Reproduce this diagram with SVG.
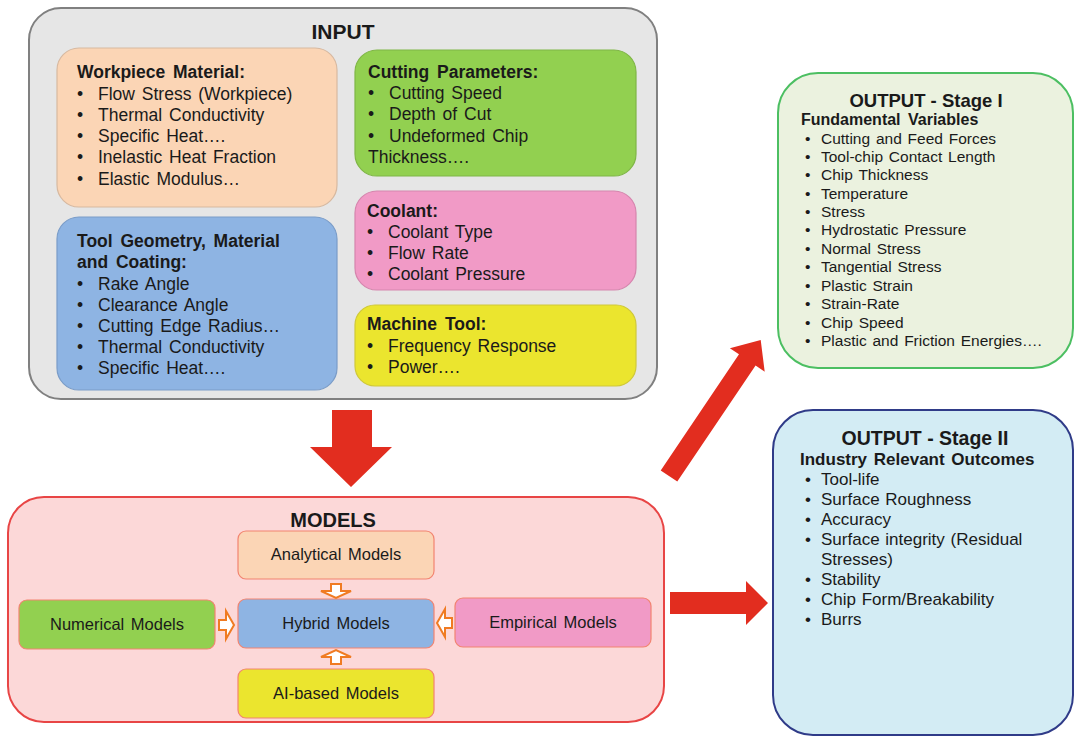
<svg xmlns="http://www.w3.org/2000/svg" width="1077" height="737" viewBox="0 0 1077 737">
  <style>
    text { font-family: "Liberation Sans", Arial, sans-serif; fill: #1a1a1a; }
    .title { font-weight: bold; font-size: 21px; text-anchor: middle; }
    .head { font-weight: bold; font-size: 17.5px; word-spacing: 3px; }
    .item { font-size: 17.5px; word-spacing: 2px; }
    .oitem { font-size: 15.5px; word-spacing: 1.5px; }
    .o2item { font-size: 17px; word-spacing: 1px; }
    .mlabel { font-size: 16.5px; word-spacing: 2px; text-anchor: middle; }
    .sub { stroke-width: 1.2; }
    .minor { fill: #ffffff; stroke: #f07b22; stroke-width: 2; stroke-linejoin: miter; }
    .big { fill: #e22d1f; }
  </style>

  <!-- INPUT panel -->
  <g id="input">
    <rect x="29" y="8" width="628" height="391" rx="32" fill="#e6e6e6" stroke="#808080" stroke-width="2"/>
    <text class="title" x="343" y="39">INPUT</text>
  </g>

  <g id="workpiece">
    <rect class="sub" x="57" y="48" width="280" height="159" rx="22" fill="#fbd5b5" stroke="#d7b9a0"/>
    <text class="head" x="77" y="78">Workpiece Material:</text>
    <text class="item" x="77" y="100">•</text><text class="item" x="98" y="100">Flow Stress (Workpiece)</text>
    <text class="item" x="77" y="121">•</text><text class="item" x="98" y="121">Thermal Conductivity</text>
    <text class="item" x="77" y="142">•</text><text class="item" x="98" y="142">Specific Heat….</text>
    <text class="item" x="77" y="163">•</text><text class="item" x="98" y="163">Inelastic Heat Fraction</text>
    <text class="item" x="77" y="185">•</text><text class="item" x="98" y="185">Elastic Modulus…</text>
  </g>

  <g id="tool">
    <rect class="sub" x="57" y="217" width="280" height="173" rx="22" fill="#8eb4e3" stroke="#7a9cc8"/>
    <text class="head" x="77" y="247">Tool Geometry, Material</text>
    <text class="head" x="77" y="268">and Coating:</text>
    <text class="item" x="77" y="290">•</text><text class="item" x="98" y="290">Rake Angle</text>
    <text class="item" x="77" y="311">•</text><text class="item" x="98" y="311">Clearance Angle</text>
    <text class="item" x="77" y="332">•</text><text class="item" x="98" y="332">Cutting Edge Radius…</text>
    <text class="item" x="77" y="353">•</text><text class="item" x="98" y="353">Thermal Conductivity</text>
    <text class="item" x="77" y="374">•</text><text class="item" x="98" y="374">Specific Heat….</text>
  </g>

  <g id="cutting">
    <rect class="sub" x="355" y="50" width="281" height="126" rx="22" fill="#92d050" stroke="#7fb646"/>
    <text class="head" x="368" y="78">Cutting Parameters:</text>
    <text class="item" x="368" y="99">•</text><text class="item" x="389" y="99">Cutting Speed</text>
    <text class="item" x="368" y="120">•</text><text class="item" x="389" y="120">Depth of Cut</text>
    <text class="item" x="368" y="142">•</text><text class="item" x="389" y="142">Undeformed Chip</text>
    <text class="item" x="368" y="163">Thickness….</text>
  </g>

  <g id="coolant">
    <rect class="sub" x="355" y="191" width="281" height="99" rx="22" fill="#f19ac6" stroke="#d585ad"/>
    <text class="head" x="367" y="217">Coolant:</text>
    <text class="item" x="367" y="238">•</text><text class="item" x="388" y="238">Coolant Type</text>
    <text class="item" x="367" y="259">•</text><text class="item" x="388" y="259">Flow Rate</text>
    <text class="item" x="367" y="280">•</text><text class="item" x="388" y="280">Coolant Pressure</text>
  </g>

  <g id="machine">
    <rect class="sub" x="355" y="305" width="281" height="81" rx="20" fill="#ebe52e" stroke="#cfc83a"/>
    <text class="head" x="367" y="330">Machine Tool:</text>
    <text class="item" x="367" y="352">•</text><text class="item" x="388" y="352">Frequency Response</text>
    <text class="item" x="367" y="373">•</text><text class="item" x="388" y="373">Power….</text>
  </g>

  <!-- MODELS panel -->
  <g id="models">
    <rect x="8" y="497" width="656" height="225" rx="36" fill="#fcd8d8" stroke="#e84545" stroke-width="2"/>
    <text class="title" x="333" y="527" style="font-size:20px">MODELS</text>
  </g>

  <g id="analytical">
    <rect class="sub" x="238" y="531" width="196" height="48" rx="8" fill="#fbd5b5" stroke="#f28470"/>
    <text class="mlabel" x="336" y="560">Analytical Models</text>
  </g>
  <g id="hybrid">
    <rect class="sub" x="238" y="599" width="196" height="49" rx="8" fill="#8eb4e3" stroke="#f28470"/>
    <text class="mlabel" x="336" y="629">Hybrid Models</text>
  </g>
  <g id="aibased">
    <rect class="sub" x="238" y="669" width="196" height="49" rx="8" fill="#ebe52e" stroke="#f28470"/>
    <text class="mlabel" x="336" y="699">AI-based Models</text>
  </g>
  <g id="numerical">
    <rect class="sub" x="19" y="600" width="196" height="49" rx="8" fill="#92d050" stroke="#f28470"/>
    <text class="mlabel" x="117" y="630">Numerical Models</text>
  </g>
  <g id="empirical">
    <rect class="sub" x="455" y="598" width="196" height="49" rx="8" fill="#f19ac6" stroke="#f28470"/>
    <text class="mlabel" x="553" y="628">Empirical Models</text>
  </g>

  <!-- OUTPUT Stage I -->
  <g id="output1">
    <rect x="778" y="73" width="295" height="295" rx="40" fill="#ebf2df" stroke="#4cbf62" stroke-width="2"/>
    <text class="title" x="926" y="107" style="font-size:18.5px">OUTPUT - Stage I</text>
    <text class="head" x="801" y="125" style="font-size:16px">Fundamental Variables</text>
    <text class="oitem" x="805" y="144">•</text><text class="oitem" x="821" y="144">Cutting and Feed Forces</text>
    <text class="oitem" x="805" y="162">•</text><text class="oitem" x="821" y="162">Tool-chip Contact Length</text>
    <text class="oitem" x="805" y="180">•</text><text class="oitem" x="821" y="180">Chip Thickness</text>
    <text class="oitem" x="805" y="199">•</text><text class="oitem" x="821" y="199">Temperature</text>
    <text class="oitem" x="805" y="217">•</text><text class="oitem" x="821" y="217">Stress</text>
    <text class="oitem" x="805" y="235">•</text><text class="oitem" x="821" y="235">Hydrostatic Pressure</text>
    <text class="oitem" x="805" y="254">•</text><text class="oitem" x="821" y="254">Normal Stress</text>
    <text class="oitem" x="805" y="272">•</text><text class="oitem" x="821" y="272">Tangential Stress</text>
    <text class="oitem" x="805" y="291">•</text><text class="oitem" x="821" y="291">Plastic Strain</text>
    <text class="oitem" x="805" y="309">•</text><text class="oitem" x="821" y="309">Strain-Rate</text>
    <text class="oitem" x="805" y="328">•</text><text class="oitem" x="821" y="328">Chip Speed</text>
    <text class="oitem" x="805" y="346">•</text><text class="oitem" x="821" y="346">Plastic and Friction Energies….</text>
  </g>

  <!-- OUTPUT Stage II -->
  <g id="output2">
    <rect x="773" y="410" width="300" height="325" rx="40" fill="#d3ecf4" stroke="#2f3b88" stroke-width="2"/>
    <text class="title" x="925" y="445" style="font-size:19.5px">OUTPUT - Stage II</text>
    <text class="head" x="800" y="465" style="font-size:17px;word-spacing:2px">Industry Relevant Outcomes</text>
    <text class="o2item" x="805" y="485">•</text><text class="o2item" x="821" y="485">Tool-life</text>
    <text class="o2item" x="805" y="505">•</text><text class="o2item" x="821" y="505">Surface Roughness</text>
    <text class="o2item" x="805" y="525">•</text><text class="o2item" x="821" y="525">Accuracy</text>
    <text class="o2item" x="805" y="545">•</text><text class="o2item" x="821" y="545">Surface integrity (Residual</text>
    <text class="o2item" x="821" y="565">Stresses)</text>
    <text class="o2item" x="805" y="585">•</text><text class="o2item" x="821" y="585">Stability</text>
    <text class="o2item" x="805" y="605">•</text><text class="o2item" x="821" y="605">Chip Form/Breakability</text>
    <text class="o2item" x="805" y="625">•</text><text class="o2item" x="821" y="625">Burrs</text>
  </g>

  <!-- connectors -->
  <g id="connectors">
    <!-- INPUT to MODELS -->
    <polygon class="big" points="332,410 372,410 372,447 392,447 351,487 310,447 332,447"/>
    <!-- MODELS to Stage II -->
    <polygon class="big" points="670,592 746,592 746,581 768,603 746,625 746,614 670,614"/>
    <!-- MODELS to Stage I (diagonal) -->
    <polygon class="big" transform="translate(669,476) rotate(-56)" points="0,-10 140,-10 140,-21 164,0 140,21 140,10 0,10"/>
    <!-- inner model links -->
    <polygon class="minor" points="331,584 341,584 341,591 351,591 336,598 321,591 331,591"/>
    <polygon class="minor" points="331,664 341,664 341,657 351,657 336,650 321,657 331,657"/>
    <polygon class="minor" points="219,620 226,620 226,611 234,625 226,639 226,630 219,630"/>
    <polygon class="minor" points="452,618 445,618 445,609 437,623 445,637 445,628 452,628"/>
  </g>
</svg>
